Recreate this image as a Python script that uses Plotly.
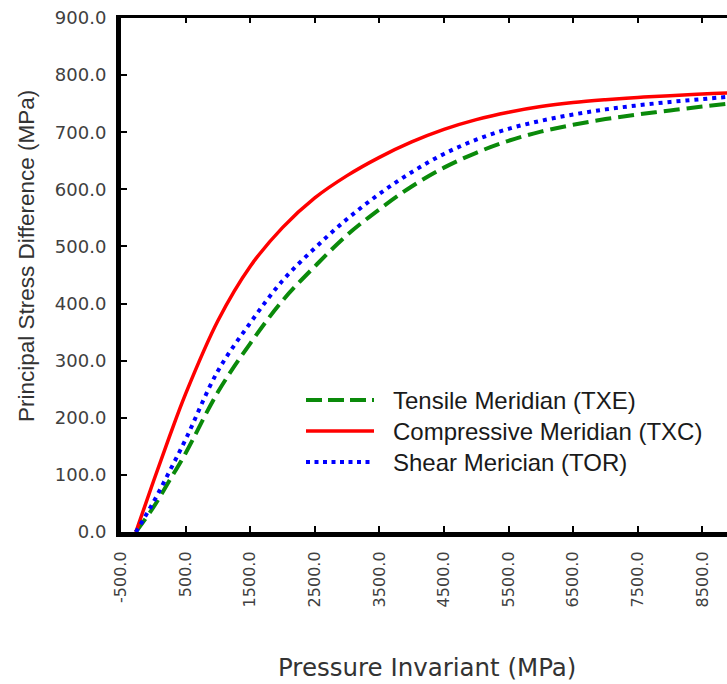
import plotly.graph_objects as go

# ---- data ----
pressure = [-270, 0, 250, 500, 1000, 1500, 2000, 2500, 3000, 3500, 4000, 4500,
            5000, 5500, 6000, 6500, 7000, 7500, 8000, 8500, 9000]
txe = [0, 43, 90, 138, 245, 330, 405, 465, 520, 565, 605, 638,
       664, 685, 701, 713, 723, 731, 738, 745, 751]
txc = [0, 88, 167, 242, 370, 465, 533, 585, 624, 656, 683, 705,
       722, 735, 745, 752, 757, 761, 764, 767, 769]
tor = [0, 52, 106, 162, 282, 366, 440, 497, 548, 592, 630, 662,
       687, 706, 720, 731, 740, 747, 753, 758, 763]

x_ticks = [-500, 500, 1500, 2500, 3500, 4500, 5500, 6500, 7500, 8500]
x_tick_text = ["-500.0", "500.0", "1500.0", "2500.0", "3500.0", "4500.0",
               "5500.0", "6500.0", "7500.0", "8500.0"]
y_ticks = [0, 100, 200, 300, 400, 500, 600, 700, 800, 900]
y_tick_text = ["0.0", "100.0", "200.0", "300.0", "400.0", "500.0",
               "600.0", "700.0", "800.0", "900.0"]

series_names = ["Tensile Meridian (TXE)", "Compressive Meridian (TXC)", "Shear Merician (TOR)"]
colors = ["#0a8a0a", "#ff0000", "#0000ff"]

W, H = 727, 684
ML, MR, MT, MB = 121, 0, 18, 152
PW, PH = W - ML - MR, H - MT - MB


def px(xp):
    return (xp - ML) / PW


def py(yp):
    return (H - MB - yp) / PH


fig = go.Figure()
fig.add_trace(go.Scatter(x=pressure, y=txe, mode="lines", name=series_names[0],
                         line=dict(color=colors[0], width=4, dash="16px,7px", shape="spline"),
                         showlegend=False))
fig.add_trace(go.Scatter(x=pressure, y=txc, mode="lines", name=series_names[1],
                         line=dict(color=colors[1], width=3.5, shape="spline"),
                         showlegend=False))
fig.add_trace(go.Scatter(x=pressure, y=tor, mode="lines", name=series_names[2],
                         line=dict(color=colors[2], width=4, dash="4px,5px", shape="spline"),
                         showlegend=False))
# invisible helper so the mirrored top axis gets drawn
fig.add_trace(go.Scatter(x=[pressure[0]], y=[txe[0]], xaxis="x2", mode="markers",
                         marker=dict(opacity=0), hoverinfo="skip", showlegend=False))

tickfont_x = dict(family="DejaVu Sans", size=16, color="#404040")
tickfont_y = dict(family="DejaVu Sans", size=18, color="#404040")

fig.update_layout(
    width=W, height=H,
    margin=dict(l=ML, r=MR, t=MT, b=MB, pad=0),
    paper_bgcolor="white", plot_bgcolor="white",
    showlegend=False,
    xaxis=dict(range=[-500, 8882], tickmode="array", tickvals=x_ticks, ticktext=x_tick_text,
               tickangle=-90, ticks="inside", ticklen=6, tickwidth=1.5, tickcolor="black",
               showline=True, linewidth=5, linecolor="black", showgrid=False, zeroline=False,
               tickfont=tickfont_x, ticklabelstandoff=8),
    xaxis2=dict(range=[-500, 8882], overlaying="x", matches="x", side="top", anchor="y",
                tickmode="array", tickvals=x_ticks, ticks="inside", ticklen=5, tickwidth=1.5,
                tickcolor="black", showticklabels=False, showline=True, linewidth=3,
                linecolor="black", showgrid=False, zeroline=False),
    yaxis=dict(range=[0, 900], tickmode="array", tickvals=y_ticks, ticktext=y_tick_text,
               ticks="inside", ticklen=6, tickwidth=1.5, tickcolor="black",
               showline=True, linewidth=5, linecolor="black", showgrid=False, zeroline=False,
               tickfont=tickfont_y, ticklabelstandoff=6),
)

# axis titles
fig.add_annotation(text="Pressure Invariant (MPa)", xref="paper", yref="paper",
                   x=px(427), y=py(667), xanchor="center", yanchor="middle", showarrow=False,
                   font=dict(family="DejaVu Sans", size=24.5, color="#333333"))
fig.add_annotation(text="Principal Stress Difference (MPa)", xref="paper", yref="paper",
                   x=px(26), y=py(256), xanchor="center", yanchor="middle", showarrow=False,
                   textangle=-90, font=dict(family="Liberation Sans", size=22.5, color="#333333"))

# manual legend
legend_rows = [400, 431, 462]
dashes = ["16px,6px", "solid", "4px,4.5px"]
widths = [4, 3.5, 4]
for name, col, yrow, d, w in zip(series_names, colors, legend_rows, dashes, widths):
    fig.add_shape(type="line", xref="paper", yref="paper",
                  x0=px(306), x1=px(374), y0=py(yrow), y1=py(yrow),
                  line=dict(color=col, width=w, dash=d))
    fig.add_annotation(text=name, xref="paper", yref="paper", x=px(391), y=py(yrow),
                       xanchor="left", yanchor="middle", showarrow=False,
                       font=dict(family="Liberation Sans", size=24, color="#1a1a1a"))

fig.write_html("out.html")
